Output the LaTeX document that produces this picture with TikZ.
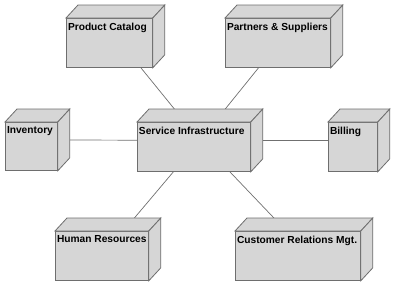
\documentclass[tikz,border=0pt]{standalone}
\usepackage{fontspec}
\setmainfont{Liberation Sans}
\usetikzlibrary{backgrounds}
\definecolor{boxfill}{HTML}{D6D6D6}
\definecolor{boxedge}{HTML}{6E6E6E}
\definecolor{linkcol}{HTML}{707070}
\tikzset{
  face/.style={draw=boxedge, fill=boxfill, line width=0.8pt, line join=miter},
  frontface/.style={face, inner sep=0pt, anchor=north west},
  lbl/.style={anchor=north west, inner sep=0pt, xshift=1.8pt, yshift=-4.5pt, font=\bfseries\fontsize{10.2}{12}\selectfont},
  link/.style={draw=linkcol, line width=0.7pt},
}
\newcommand{\depthbox}[6]{%
  \node[frontface, minimum width=#4pt, minimum height=#5pt,
        label={[lbl]north west:#6}] (#1) at (#2,#3) {};
  \draw[face] (#1.north west) -- ++(12pt,13pt) -- ([shift={(12pt,13pt)}]#1.north east) -- (#1.north east) -- cycle;
  \draw[face] (#1.north east) -- ++(12pt,13pt) -- ([shift={(12pt,13pt)}]#1.south east) -- (#1.south east) -- cycle;
  \coordinate (#1-c) at ([shift={(6pt,6.5pt)}]#1.center);
}
\begin{document}
\begin{tikzpicture}[x=1pt,y=-1pt]
\useasboundingbox (0,0) rectangle (400,290);
\depthbox{pc}{66}{18}{86}{49}{Product Catalog}
\depthbox{ps}{225}{18}{105}{49}{Partners \& Suppliers}
\depthbox{inv}{5}{122}{52}{48}{Inventory}
\depthbox{si}{137}{122}{113}{49}{Service Infrastructure}
\depthbox{bill}{328}{122}{49}{49}{Billing}
\depthbox{hr}{55}{231}{93}{49}{Human Resources}
\depthbox{crm}{235}{231}{125}{49}{Customer Relations Mgt.}
\begin{pgfonlayer}{background}
\draw[link] (si-c) -- (pc-c);
\draw[link] (si-c) -- (ps-c);
\draw[link] (si-c) -- (inv-c);
\draw[link] (si-c) -- (bill-c);
\draw[link] (si-c) -- (hr-c);
\draw[link] (si-c) -- (crm-c);
\end{pgfonlayer}
\end{tikzpicture}
\end{document}
